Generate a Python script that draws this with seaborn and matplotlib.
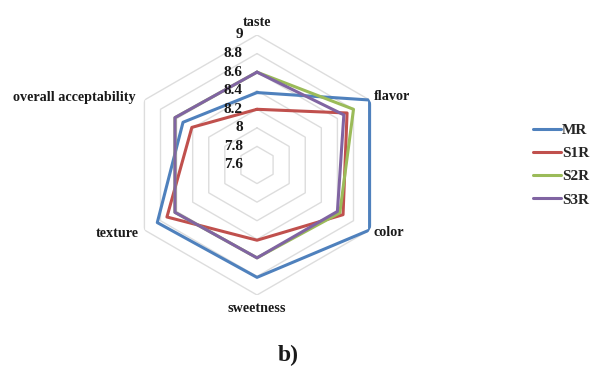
import numpy as np
import pandas as pd
import matplotlib
matplotlib.use("Agg")
import matplotlib.pyplot as plt
import seaborn as sns
from matplotlib.transforms import offset_copy

# Sensory scores per attribute (clockwise from the top)
categories = ["taste", "flavor", "color", "sweetness", "texture", "overall acceptability"]
mr = [8.38, 9.00, 9.00, 8.81, 8.84, 8.52]
s1r = [8.20, 8.72, 8.67, 8.41, 8.72, 8.41]
s2r = [8.60, 8.80, 8.63, 8.60, 8.62, 8.62]
s3r = [8.60, 8.68, 8.60, 8.60, 8.62, 8.62]
series_names = ["MR", "S1R", "S2R", "S3R"]
r_ticks = [7.6, 7.8, 8.0, 8.2, 8.4, 8.6, 8.8, 9.0]
tick_labels = ["7.6", "7.8", "8", "8.2", "8.4", "8.6", "8.8", "9"]
colors = ["#4F81BD", "#C0504D", "#9BBB59", "#8064A2"]

sns.set_style("white")
plt.rcParams["font.family"] = ["Liberation Serif", "DejaVu Serif"]
plt.rcParams["font.weight"] = "bold"

fig = plt.figure(figsize=(5.9, 3.67), dpi=100)
ax = fig.add_axes([127 / 590, 72 / 367, 260 / 590, 260 / 367], projection="polar")
ax.set_theta_zero_location("N")
ax.set_theta_direction(-1)

n = len(categories)
theta = np.arange(n) * 2 * np.pi / n
theta_closed = np.append(theta, theta[0])

# hexagonal web
for v in r_ticks[1:]:
    ax.plot(theta_closed, [v] * (n + 1), color="#DDDDDD", lw=1.0, zorder=1)

rows = []
for name, vals in zip(series_names, [mr, s1r, s2r, s3r]):
    closed = list(vals) + [vals[0]]
    for i, (t, v) in enumerate(zip(theta_closed, closed)):
        rows.append({"sample": name, "order": i, "theta": t, "score": v})
df = pd.DataFrame(rows)

sns.lineplot(data=df, x="theta", y="score", hue="sample", hue_order=series_names,
             palette=colors, sort=False, estimator=None, lw=2.2, legend=False,
             ax=ax, zorder=3)

ax.set_ylim(7.6, 9.0)
ax.grid(False)
ax.spines["polar"].set_visible(False)
ax.set_xticks([])
ax.set_yticks([])
ax.set_xlabel("")
ax.set_ylabel("")

# radial value labels along the top axis
tick_tr = offset_copy(ax.transData, fig=fig, x=-14, y=0, units="dots")
for v, lab in zip(r_ticks, tick_labels):
    ax.text(0, v, lab, transform=tick_tr, ha="right", va="center",
            fontsize=11, fontweight="bold", color="#1a1a1a")

# attribute labels
label_pos = [
    ((0, 13), "center"),
    ((4, 3), "left"),
    ((4, -3), "left"),
    ((0, -14), "center"),
    ((-6, -3), "right"),
    ((-9, 3), "right"),
]
for t, cat, ((dx, dy), ha) in zip(theta, categories, label_pos):
    tr = offset_copy(ax.transData, fig=fig, x=dx, y=dy, units="dots")
    ax.text(t, 9.0, cat, transform=tr, ha=ha, va="center",
            fontsize=10.2, fontweight="bold", color="#1a1a1a")

handles = ax.lines[-4:]
fig.legend(handles, series_names, loc="center left",
           bbox_to_anchor=(527 / 590, 1 - 165 / 367), frameon=False,
           handlelength=1.8, handletextpad=0.1, labelspacing=0.62,
           borderaxespad=0.0,
           prop={"size": 11, "weight": "bold"})

fig.text(288 / 590, 1 - 355 / 367, "b)", ha="center", va="center",
         fontsize=17, fontweight="bold", color="#1a1a1a")

fig.savefig("out.png", dpi=100)
